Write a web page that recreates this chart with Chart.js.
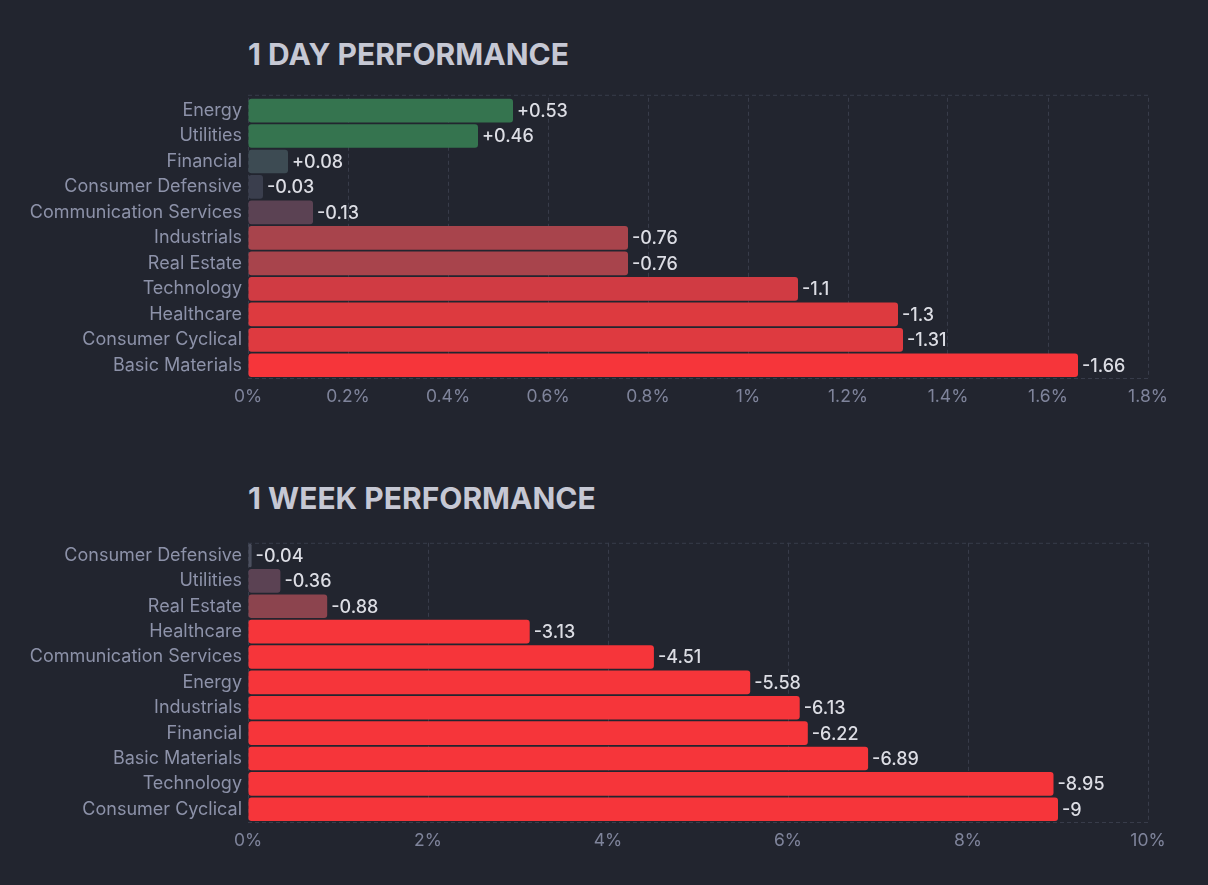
<!DOCTYPE html>
<html>
<head>
<meta charset="utf-8">
<script src="https://cdn.jsdelivr.net/npm/chart.js@4"></script>
<style>
  html, body { margin: 0; padding: 0; background: #22252f; }
  body { width: 1208px; height: 885px; position: relative; overflow: hidden; font-family: Inter, sans-serif; }
  .title { position: absolute; left: 248px; font-size: 30px; font-weight: 700; line-height: 36px; color: #c6c8d4; }
  .wrap { position: absolute; left: 0; width: 1208px; }
</style>
</head>
<body>
<div class="title" style="top:36px">1 DAY PERFORMANCE</div>
<div class="wrap" style="top:81px;height:337px"><canvas id="dayChart"></canvas></div>
<div class="title" style="top:480px">1 WEEK PERFORMANCE</div>
<div class="wrap" style="top:526px;height:336px"><canvas id="weekChart"></canvas></div>
<script>
// 1 day
const dayLabels = ['Energy', 'Utilities', 'Financial', 'Consumer Defensive', 'Communication Services',
    'Industrials', 'Real Estate', 'Technology', 'Healthcare', 'Consumer Cyclical', 'Basic Materials'];
const dayValues = [0.53, 0.46, 0.08, -0.03, -0.13, -0.76, -0.76, -1.1, -1.3, -1.31, -1.66];
const dayMax = 1.8;
const dayStep = 0.2;

// 1 week
const weekLabels = ['Consumer Defensive', 'Utilities', 'Real Estate', 'Healthcare', 'Communication Services',
    'Energy', 'Industrials', 'Financial', 'Basic Materials', 'Technology', 'Consumer Cyclical'];
const weekValues = [-0.04, -0.36, -0.88, -3.13, -4.51, -5.58, -6.13, -6.22, -6.89, -8.95, -9];
const weekMax = 10;
const weekStep = 2;

// bar colours
const dayColors = ['#35744f', '#35744f', '#3d4b53', '#3a3e4d', '#5b4253', '#a8444c', '#a8444c',
    '#d03b43', '#dd3a3f', '#de3a40', '#f6353a'];
const weekColors = ['#4b4f5e', '#5b4253', '#8c444e', '#f6353a', '#f6353a', '#f6353a', '#f6353a',
    '#f6353a', '#f6353a', '#f6353a', '#f6353a'];

const FONT = 'Inter';
const gridColor = '#383c4a';

const valueLabels = {
    id: 'valueLabels',
    afterDatasetsDraw(chart) {
        const ctx = chart.ctx;
        const raw = chart.options.plugins.valueLabels.raw;
        const meta = chart.getDatasetMeta(0);
        ctx.save();
        ctx.font = '500 18px ' + FONT;
        ctx.fillStyle = '#dcdde4';
        ctx.textAlign = 'left';
        ctx.textBaseline = 'middle';
        meta.data.forEach((bar, i) => {
            const v = raw[i];
            const txt = (v > 0 ? '+' : '') + v;
            ctx.fillText(txt, bar.x + 4, bar.y + 1);
        });
        ctx.restore();
    }
};

const frameLines = {
    id: 'frameLines',
    beforeDatasetsDraw(chart) {
        const { ctx, chartArea: a } = chart;
        const top = a.top - (chart.options.plugins.frameLines.topOffset || 0);
        ctx.save();
        ctx.strokeStyle = gridColor;
        ctx.lineWidth = 1;
        ctx.setLineDash([4, 3]);
        ctx.beginPath();
        ctx.moveTo(a.left, top + 0.5);
        ctx.lineTo(a.right, top + 0.5);
        ctx.moveTo(a.left, a.bottom + 0.5);
        ctx.lineTo(a.right, a.bottom + 0.5);
        ctx.stroke();
        ctx.restore();
    }
};

function makeChart(id, labels, values, colors, max, step, topOffset) {
    new Chart(document.getElementById(id), {
        type: 'bar',
        data: {
            labels: labels,
            datasets: [{
                data: values.map(v => Math.abs(v)),
                backgroundColor: colors,
                borderWidth: 0,
                borderRadius: 3,
                borderSkipped: false,
                barPercentage: 0.93,
                categoryPercentage: 1
            }]
        },
        options: {
            indexAxis: 'y',
            responsive: true,
            maintainAspectRatio: false,
            animation: false,
            layout: { padding: { top: 10, right: 60, left: 0, bottom: 0 } },
            scales: {
                x: {
                    min: 0,
                    max: max,
                    ticks: {
                        stepSize: step,
                        color: '#7f849b',
                        font: { size: 17.5, family: FONT },
                        padding: 8,
                        callback: v => Number(v.toFixed(1)) + '%'
                    },
                    grid: { color: gridColor, drawTicks: false },
                    border: { display: false, dash: [4, 3] },
                    afterFit: s => { s.height = 40; }
                },
                y: {
                    ticks: {
                        color: '#8d92a9',
                        font: { size: 18, family: FONT },
                        padding: 6
                    },
                    grid: { display: false, drawTicks: false },
                    border: { display: false },
                    afterFit: s => { s.width = 248; }
                }
            },
            plugins: {
                legend: { display: false },
                tooltip: { enabled: false },
                valueLabels: { raw: values },
                frameLines: { topOffset: topOffset }
            }
        },
        plugins: [frameLines, valueLabels]
    });
}

makeChart('dayChart', dayLabels, dayValues, dayColors, dayMax, dayStep, 3);
makeChart('weekChart', weekLabels, weekValues, weekColors, weekMax, weekStep, 0);
</script>
</body>
</html>
